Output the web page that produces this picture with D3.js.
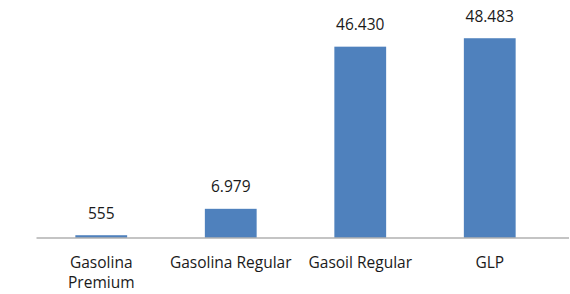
<!doctype html>
<html>
<meta charset="utf-8">
<style>
    body { margin: 0; background: #fff; }
    text { font-family: "Open Sans", sans-serif; fill: #1a1a1a; }
</style>
<head>
    <script src="https://d3js.org/d3.v7.min.js"></script>
</head>
<body>
<svg id="chart" width="570" height="294"></svg>
<script>
    var categories = ["Gasolina Premium", "Gasolina Regular", "Gasoil Regular", "GLP"];
    var values = [555, 6979, 46430, 48483];
    var valueLabels = ["555", "6.979", "46.430", "48.483"];
    var yMax = 50000;

    var svg = d3.select("#chart");
    var width = 570, baseY = 237.5, topY = 32;

    var x = d3.scaleBand().domain(categories).range([36.5, 554.5])
        .paddingInner(0.6).paddingOuter(0.3);
    var y = d3.scaleLinear().domain([0, yMax]).range([baseY, topY]);

    // bars
    svg.selectAll("rect.bar").data(values).enter().append("rect")
        .attr("class", "bar")
        .attr("x", function (d, i) { return x(categories[i]); })
        .attr("width", x.bandwidth())
        .attr("y", function (d) { return y(d); })
        .attr("height", function (d) { return y(0) - y(d); })
        .attr("fill", "#4f81bd");

    // value labels
    svg.selectAll("text.val").data(values).enter().append("text")
        .attr("class", "val")
        .attr("x", function (d, i) { return x(categories[i]) + x.bandwidth() / 2; })
        .attr("y", function (d) { return y(d) - 16.5; })
        .attr("text-anchor", "middle")
        .style("font-size", "15.5px")
        .text(function (d, i) { return valueLabels[i]; });

    // axis line
    svg.append("line")
        .attr("x1", x.range()[0]).attr("x2", width - 1)
        .attr("y1", y(0) + 0.5).attr("y2", y(0) + 0.5)
        .attr("stroke", "#8a8a8a").attr("stroke-width", 1.2);

    // category labels, wrapped to the band step
    var axis = svg.append("g").attr("transform", "translate(0," + y(0) + ")")
        .call(d3.axisBottom(x).tickSize(0).tickPadding(0));
    axis.select(".domain").remove();
    axis.selectAll(".tick text")
        .style("font-size", "15.5px")
        .style("font-family", "'Open Sans', sans-serif")
        .attr("fill", "#1a1a1a")
        .each(function (d) {
            var t = d3.select(this);
            t.text(null).attr("y", 0).attr("dy", null);
            var words = d.split(" "), line = [], lines = [];
            var probe = t.append("tspan");
            words.forEach(function (w) {
                line.push(w);
                probe.text(line.join(" "));
                if (probe.node().getComputedTextLength() > x.step() && line.length > 1) {
                    line.pop();
                    lines.push(line.join(" "));
                    line = [w];
                }
            });
            lines.push(line.join(" "));
            probe.remove();
            lines.forEach(function (l, k) {
                t.append("tspan").attr("x", 0).attr("y", 30.5 + k * 20).text(l);
            });
        });
</script>
</body>
</html>
